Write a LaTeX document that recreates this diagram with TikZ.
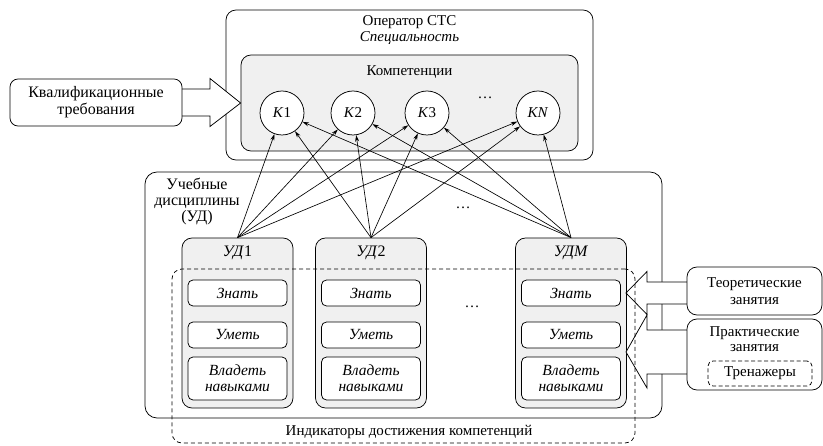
\documentclass[tikz,border=0pt]{standalone}
\usepackage{fontspec}
\setmainfont{Liberation Serif}
\usetikzlibrary{arrows.meta,calc}
\begin{document}
\begin{tikzpicture}[x=1pt,y=-1pt,font=\fontsize{15}{17}\selectfont,line width=0.75pt]
\tikzset{
  frame/.style={draw, rounded corners=10pt, inner sep=0pt},
  graybox/.style={frame, fill=black!6},
  whitebox/.style={draw, rounded corners=5pt, inner sep=0pt, fill=white, minimum width=99pt, font=\fontsize{15.5}{16}\selectfont\itshape, align=center},
  kc/.style={draw, circle, minimum size=44pt, inner sep=0pt, fill=white},
  conn/.style={-{Stealth[length=6.5pt,width=4pt]}, line width=0.65pt},
  blockarrow/.style={draw, fill=white, line join=miter},
  dots/.style={inner sep=0pt}
}
\useasboundingbox (0,0) rectangle (823,446);

% top block
\node[frame, minimum width=367pt, minimum height=150pt] (op) at (409.5,85) {};
\node[align=center, font=\fontsize{15}{16}\selectfont] (optxt) at (409.5,30) {Оператор СТС\\\textit{Специальность}};
\node[graybox, minimum width=337pt, minimum height=96pt] (comp) at (409.5,103) {};
\node (comptxt) at (409.5,72) {Компетенции};
\node[kc] (k1) at (282,113) {\textit{K}1};
\node[kc] (k2) at (353,113) {\textit{K}2};
\node[kc] (k3) at (427,113) {\textit{K}3};
\node[kc] (kN) at (538,113) {\textit{KN}};
\node[dots] (d1) at (485,98) {\dots};

% lower block
\node[frame, rounded corners=12pt, minimum width=517pt, minimum height=246pt] (udbig) at (403.5,295) {};
\node[align=center, font=\fontsize{16}{16}\selectfont] (udtxt) at (197,201) {Учебные\\дисциплины\\(УД)};

\foreach \n/\cx/\lab in {ud1/237.5/{\textit{УД}1}, ud2/371/{\textit{УД}2}, udM/571/{\textit{УДМ}}}{
  \node[graybox, minimum width=111pt, minimum height=170pt] (\n) at (\cx,323) {};
  \node[font=\fontsize{16}{17}\selectfont] (\n t) at (\cx,253) {\lab};
  \node[whitebox, minimum height=26pt] (\n zn) at (\cx,293) {Знать};
  \node[whitebox, minimum height=26pt] (\n um) at (\cx,335) {Уметь};
  \node[whitebox, minimum height=43pt] (\n vl) at (\cx,378.5) {Владеть\\навыками};
}
\node[dots] (d2) at (463,208) {\dots};
\node[dots] (d3) at (472,307) {\dots};

% connectors
\foreach \u in {ud1,ud2,udM}{
  \foreach \k in {k1,k2,k3,kN}{
    \draw[conn] (\u.north) -- (\k);
  }
}

% left: qualification requirements
\coordinate (kvE) at (182,102.5);
\draw[blockarrow] ($(kvE)+(0,-13.5)$) -- ($(kvE)+(28,-13.5)$) -- ($(kvE)+(28,-24)$) -- (comp.west) -- ($(kvE)+(28,24)$) -- ($(kvE)+(28,13.5)$) -- ($(kvE)+(0,13.5)$);
\node[frame, rounded corners=8pt, minimum width=172pt, minimum height=47pt, align=center, font=\fontsize{16}{17}\selectfont] (kval) at (96,102.5) {Квалификационные\\требования};

% right: lessons
\coordinate (tT) at (626,293);
\coordinate (tP) at (626,352);
\coordinate (thW) at (687,293);
\coordinate (prW) at (687,352);
\draw[blockarrow] ($(thW)+(0,-11)$) -- ($(tT)+(21,-11)$) -- ($(tT)+(21,-21.5)$) -- (tT) -- ($(tT)+(21,21.5)$) -- ($(tT)+(21,11)$) -- ($(thW)+(0,11)$);
\draw[blockarrow] ($(prW)+(0,-22)$) -- ($(tP)+(21,-22)$) -- ($(tP)+(21,-37)$) -- (tP) -- ($(tP)+(21,36)$) -- ($(tP)+(21,22)$) -- ($(prW)+(0,22)$);
\node[frame, fill=white, minimum width=135pt, minimum height=48pt, align=center] (theo) at (754.5,291) {Теоретические\\занятия};
\node[frame, fill=white, minimum width=135pt, minimum height=71pt] (prac) at (754.5,354.5) {};
\node[align=center, font=\fontsize{15}{15}\selectfont] (practxt) at (754.5,339.5) {Практические\\занятия};
\node[draw, dashed, dash pattern=on 4pt off 2.5pt, rounded corners=5pt, minimum width=104pt, minimum height=25pt, inner sep=0pt] (tren) at (760,373.5) {Тренажеры};

% indicators
\node[draw, dashed, dash pattern=on 4pt off 3pt, rounded corners=10pt, minimum width=463pt, minimum height=174pt, inner sep=0pt] (ind) at (403.5,356) {};
\node (indtxt) at (409,432) {Индикаторы достижения компетенций};
\end{tikzpicture}
\end{document}
